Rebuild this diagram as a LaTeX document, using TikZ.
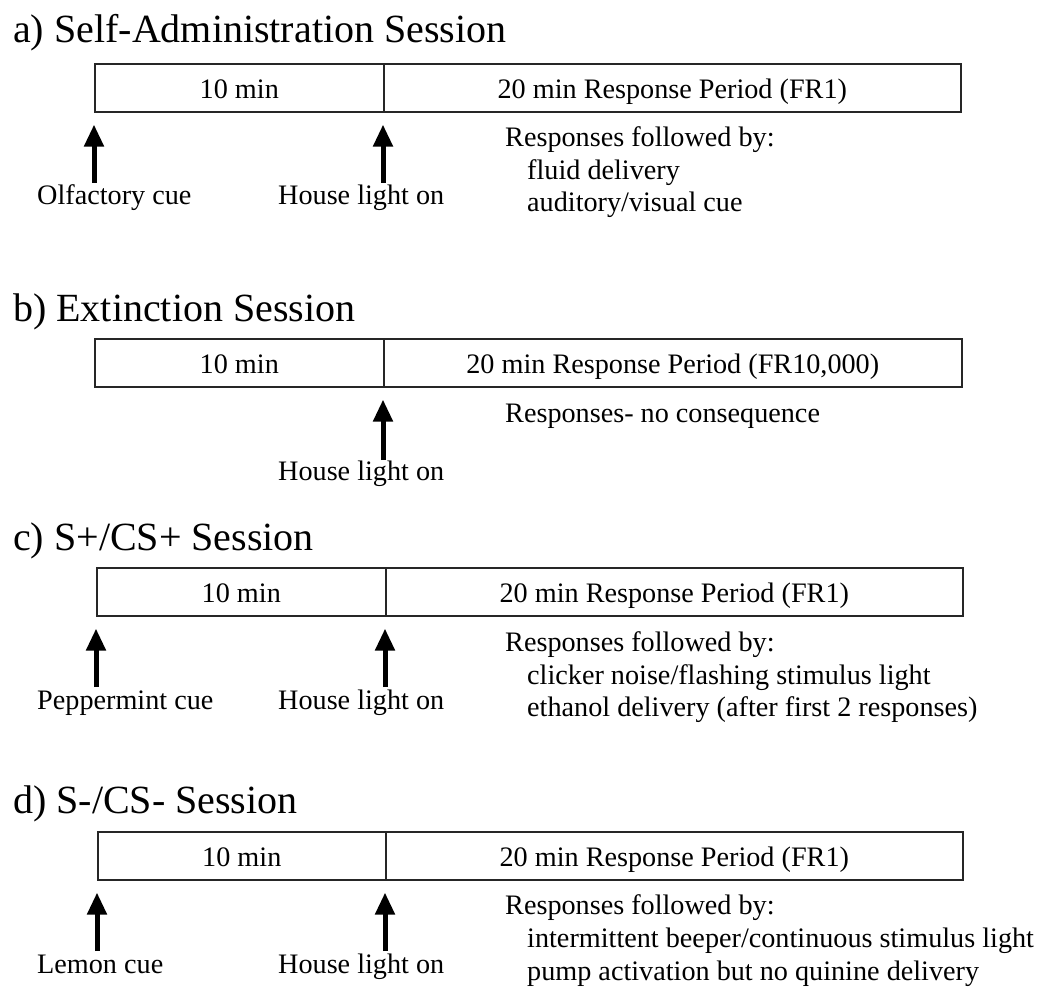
\documentclass[tikz,border=0pt]{standalone}
\usepackage{fontspec}
\setmainfont{Liberation Serif}
\usetikzlibrary{arrows.meta}
\begin{document}
\begin{tikzpicture}[x=1pt,y=-1pt,
  seg/.style={draw=black!85, line width=1.6pt, minimum height=48pt, inner sep=0pt,
    anchor=north west, text height=22pt, text depth=0pt, font=\fontsize{28.2}{33}\selectfont},
  ttl/.style={anchor=base west, inner sep=0pt, font=\fontsize{40}{48}\selectfont},
  lbl/.style={anchor=base west, inner sep=0pt, font=\fontsize{28.2}{33}\selectfont},
  uparr/.style={line width=5pt, -{Triangle[width=19pt,length=22pt]}}]
\useasboundingbox (0,0) rectangle (1050,1008);
% ---------- a ----------
\node[ttl] (ta) at (13,43) {a) Self-Administration Session};
\node[seg, minimum width=289pt] (a10) at (94,63) {10 min};
\node[seg, minimum width=577pt] (a20) at (383,63) {20 min Response Period (FR1)};
\coordinate (aA) at (94,183);
\coordinate (aB) at (383,183);
\draw[uparr] (aA) -- ([yshift=-12pt]a10.south west);
\draw[uparr] (aB) -- ([yshift=-12pt]a20.south west);
\node[lbl] (la1) at (37,205) {Olfactory cue};
\node[lbl] (la2) at (278,205) {House light on};
\node[lbl] (ra0) at (505,147) {Responses followed by:};
\node[lbl] (ra1) at (527,180) {fluid delivery};
\node[lbl] (ra2) at (527,212) {auditory/visual cue};
% ---------- b ----------
\node[ttl] (tb) at (13,322) {b) Extinction Session};
\node[seg, minimum width=289pt] (b10) at (94,338) {10 min};
\node[seg, minimum width=578pt] (b20) at (383,338) {20 min Response Period (FR10,000)};
\coordinate (bB) at (383,460);
\draw[uparr] (bB) -- ([yshift=-12pt]b20.south west);
\node[lbl] (lb2) at (278,480) {House light on};
\node[lbl] (rb0) at (505,422) {Responses- no consequence};
% ---------- c ----------
\node[ttl] (tc) at (13,550) {c) S+/CS+ Session};
\node[seg, minimum width=289pt] (c10) at (96,567) {10 min};
\node[seg, minimum width=577pt] (c20) at (385,567) {20 min Response Period (FR1)};
\coordinate (cA) at (96,687);
\coordinate (cB) at (385,687);
\draw[uparr] (cA) -- ([yshift=-12pt]c10.south west);
\draw[uparr] (cB) -- ([yshift=-12pt]c20.south west);
\node[lbl] (lc1) at (37,709) {Peppermint cue};
\node[lbl] (lc2) at (278,709) {House light on};
\node[lbl] (rc0) at (505,651) {Responses followed by:};
\node[lbl] (rc1) at (527,684) {clicker noise/flashing stimulus light};
\node[lbl] (rc2) at (527,716) {ethanol delivery (after first 2 responses)};
% ---------- d ----------
\node[ttl] (td) at (13,813) {d) S-/CS- Session};
\node[seg, minimum width=288pt] (d10) at (97,831) {10 min};
\node[seg, minimum width=577pt] (d20) at (385,831) {20 min Response Period (FR1)};
\coordinate (dA) at (97,951);
\coordinate (dB) at (385,951);
\draw[uparr] (dA) -- ([yshift=-12pt]d10.south west);
\draw[uparr] (dB) -- ([yshift=-12pt]d20.south west);
\node[lbl] (ld1) at (37,973) {Lemon cue};
\node[lbl] (ld2) at (278,973) {House light on};
\node[lbl] (rd0) at (505,914) {Responses followed by:};
\node[lbl] (rd1) at (527,947) {intermittent beeper/continuous stimulus light};
\node[lbl] (rd2) at (527,980) {pump activation but no quinine delivery};
\end{tikzpicture}
\end{document}
